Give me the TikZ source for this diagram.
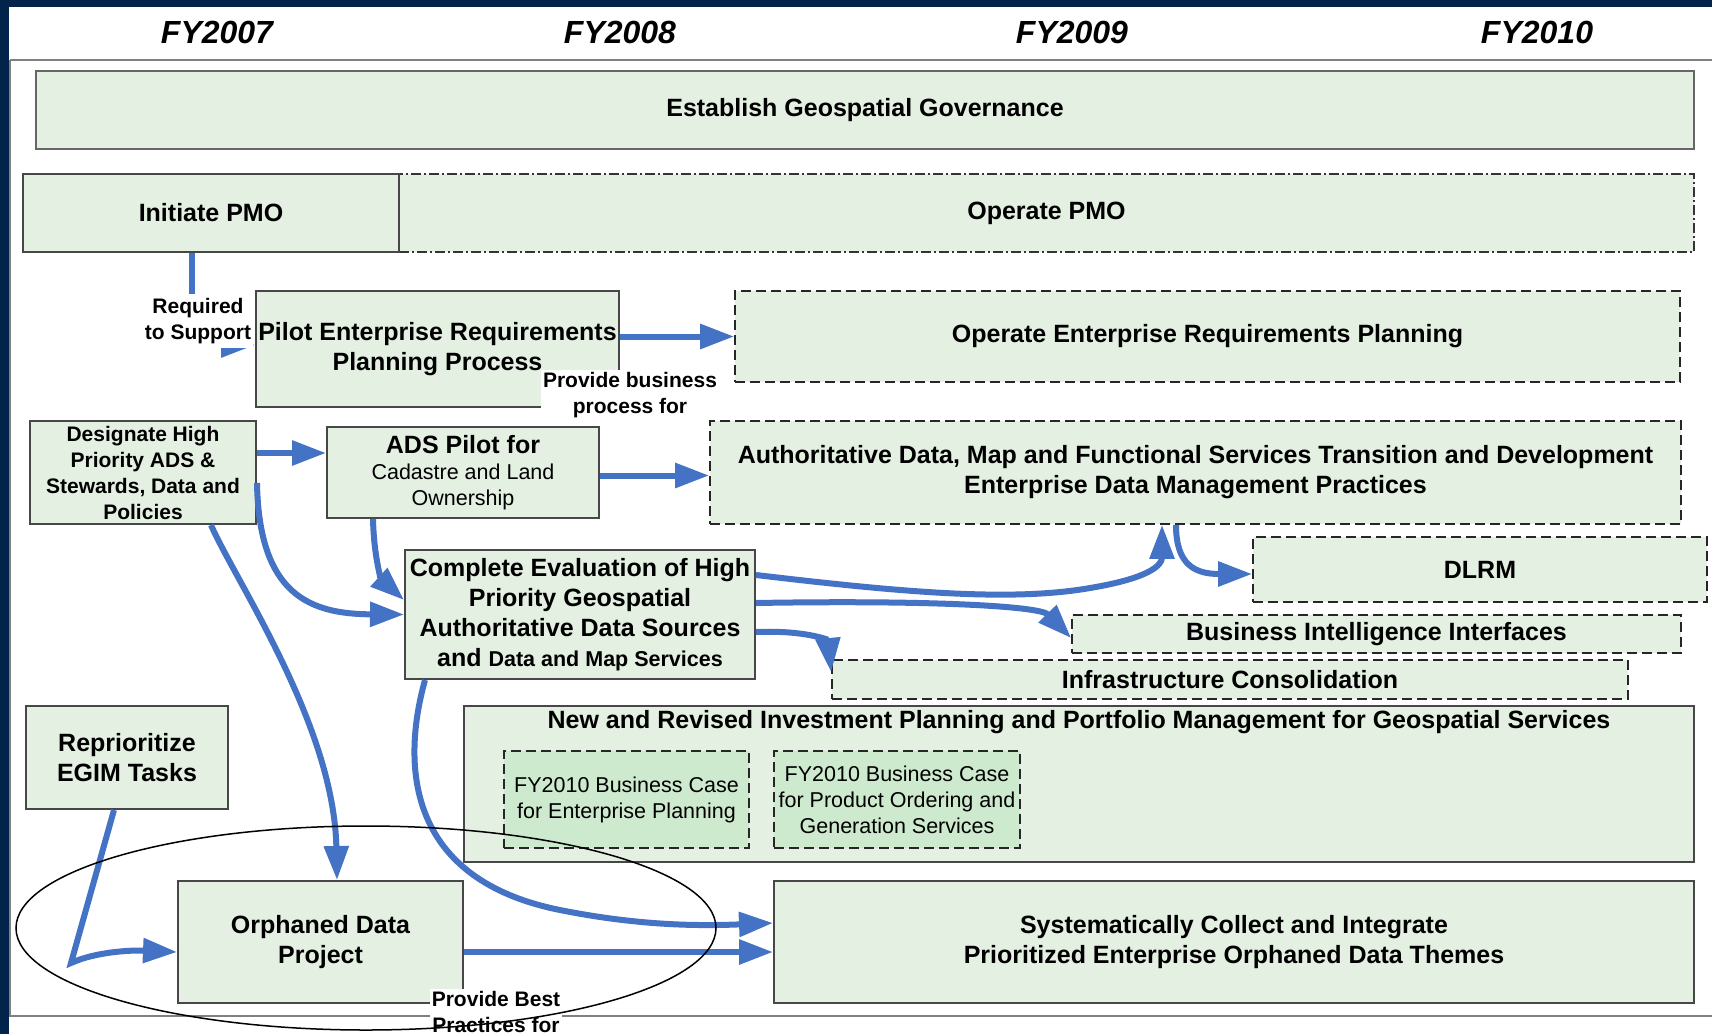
\documentclass[tikz,border=0pt]{standalone}
\usepackage{fontspec}
\setmainfont{Liberation Sans}
\usetikzlibrary{arrows.meta,calc,shapes.geometric}
\definecolor{navy}{RGB}{2,36,74}
\definecolor{boxfill}{RGB}{228,240,226}
\definecolor{innerfill}{RGB}{206,234,206}
\definecolor{ablue}{RGB}{68,114,196}
\definecolor{frameg}{RGB}{128,128,128}
\tikzset{
 solidbox/.style={draw=black!72, line width=2pt, fill=boxfill, inner sep=0pt, align=center},
 dashbox/.style={draw=black!85, line width=1.8pt, dash pattern=on 10pt off 5pt, fill=boxfill, inner sep=0pt, align=center},
 dotbox/.style={draw=black!80, line width=1.6pt, dash pattern=on 10pt off 3pt on 2pt off 3pt, fill=boxfill, inner sep=0pt, align=center},
 innerbox/.style={dashbox, fill=innerfill},
 big/.style={font=\fontsize{25}{30}\selectfont\bfseries},
 small/.style={font=\fontsize{21}{26}\selectfont\bfseries},
 smallreg/.style={font=\fontsize{21.5}{26}\selectfont},
 yearlbl/.style={font=\fontsize{32}{38}\selectfont\bfseries\itshape},
 conn/.style={draw=ablue, line width=6pt, -{Triangle[length=34pt,width=24pt]}},
 lbl/.style={fill=white, inner sep=2pt, align=center, font=\fontsize{21}{26}\selectfont\bfseries},
}
\begin{document}
\begin{tikzpicture}[x=1pt,y=-1pt]
\useasboundingbox (0,0) rectangle (1712,1034);
\fill[white] (0,0) rectangle (1712,1034);
% frame
\fill[navy] (0,0) rectangle (1712,7);
\fill[navy] (0,0) rectangle (9,1034);
\draw[frameg, line width=2.5pt] (10,60) -- (1712,60);
\draw[frameg, line width=2pt] (10,60) -- (10,1016) -- (1712,1016);
% years
\node[yearlbl] (y07) at (217,32) {FY2007};
\node[yearlbl] (y08) at (620,32) {FY2008};
\node[yearlbl] (y09) at (1072,32) {FY2009};
\node[yearlbl] (y10) at (1537,32) {FY2010};
% boxes
\node[solidbox, big, draw=black!60, minimum width=1658pt, minimum height=78pt] (est) at (865,110) {Establish Geospatial Governance};
\node[dotbox, big, minimum width=1295pt, minimum height=78pt] (opmo) at (1046.5,213) {Operate PMO};
\node[solidbox, big, minimum width=376pt, minimum height=78pt] (init) at (211,213) {Initiate PMO};
\node[solidbox, big, minimum width=363pt, minimum height=116pt] (pilot) at (437.5,349) {Pilot Enterprise Requirements\\Planning Process};
\node[dashbox, big, minimum width=945pt, minimum height=91pt] (operp) at (1207.5,336.5) {Operate Enterprise Requirements Planning};
\node[solidbox, small, minimum width=226pt, minimum height=103pt] (desig) at (143,472.5) {Designate High\\Priority ADS \&\\Stewards, Data and\\Policies};
\node[solidbox, smallreg, minimum width=272pt, minimum height=91pt] (adsp) at (463,472.5) {{\fontsize{25}{30}\selectfont\bfseries ADS Pilot for}\\Cadastre and Land\\Ownership};
\node[dashbox, big, minimum width=971pt, minimum height=103pt] (auth) at (1195.5,472.5) {Authoritative Data, Map and Functional Services Transition and Development\\Enterprise Data Management Practices};
\node[dashbox, big, minimum width=454pt, minimum height=65pt] (dlrm) at (1480,569.5) {DLRM};
\node[dashbox, big, minimum width=609pt, minimum height=38pt] (bii) at (1376.5,634) {Business Intelligence Interfaces};
\node[dashbox, big, minimum width=796pt, minimum height=39pt] (infra) at (1230,679.5) {Infrastructure Consolidation};
\node[solidbox, big, minimum width=350pt, minimum height=129pt] (ceval) at (580,614.5) {Complete Evaluation of High\\Priority Geospatial\\Authoritative Data Sources\\and {\fontsize{21.5}{30}\selectfont\bfseries Data and Map Services}};
\node[solidbox, big, minimum width=202pt, minimum height=103pt] (repri) at (127,757.5) {Reprioritize\\EGIM Tasks};
\node[solidbox, minimum width=1230pt, minimum height=156pt] (nrip) at (1079,784) {};
\node[big] (nript) at (1079,722) {New and Revised Investment Planning and Portfolio Management for Geospatial Services};
\node[innerbox, smallreg, minimum width=245pt, minimum height=97pt] (bc1) at (626.5,799.5) {FY2010 Business Case\\for Enterprise Planning};
\node[innerbox, smallreg, minimum width=246pt, minimum height=97pt] (bc2) at (897,799.5) {FY2010 Business Case\\for Product Ordering and\\Generation Services};
\node[solidbox, big, minimum width=285pt, minimum height=122pt] (orph) at (320.5,942) {Orphaned Data\\Project};
\node[solidbox, big, minimum width=920pt, minimum height=122pt] (sys) at (1234,942) {Systematically Collect and Integrate\\Prioritized Enterprise Orphaned Data Themes};
% connectors
\coordinate (bend) at (71,963);
\coordinate (cvia) at (560,910);
\coordinate (avia) at (1090,588);
\draw[conn] ([xshift=-19pt]init.south) |- ([yshift=4pt]pilot.west);
\draw[conn] (pilot.east |- operp.west) -- (operp.west);
\draw[conn] ([yshift=19.5pt]desig.east) -- ([yshift=19.5pt]adsp.west);
\draw[conn] ([yshift=-3pt]adsp.east) -- ([yshift=-3pt]auth.west);
\draw[conn] ([xshift=-90pt]adsp.south) .. controls (374,560) and (382,580) .. ([yshift=14.5pt]ceval.west);
\draw[conn] ([yshift=-10.5pt]desig.east) .. controls (259,595) and (310,614) .. (ceval.west);
\draw[conn] ([xshift=68pt]desig.south) .. controls (236,582) and (334,725) .. ([xshift=16.5pt]orph.north);
\draw[conn] ([xshift=-13pt]repri.south) -- (bend) .. controls (95,952) and (130,950) .. ([yshift=-10pt]orph.west);
\draw[conn] ([xshift=-155pt]ceval.south) .. controls (400,770) and (410,880) .. (cvia) .. controls (640,926) and (700,926) .. ([yshift=19pt]sys.west);
\draw[conn] ([yshift=-10pt]orph.east) -- ([yshift=-10pt]sys.west);
\draw[conn] ([yshift=39.5pt]ceval.east) .. controls (900,592) and (1010,602) .. (avia) .. controls (1150,578) and (1162,565) .. ([xshift=-33.5pt]auth.south);
\draw[conn] ([xshift=-19.5pt]auth.south) .. controls (1176,565) and (1195,574) .. ([yshift=-4.5pt]dlrm.west);
\draw[conn] ([yshift=11.5pt]ceval.east) .. controls (930,600) and (1040,606) .. ([yshift=-4pt]bii.west);
\draw[conn] ([yshift=-17.5pt]ceval.east) .. controls (805,630) and (828,640) .. ([yshift=7.5pt]infra.west);
% labels
\node[lbl, minimum height=54pt] (reqlbl) at (198,321) {Required\\to Support};
\node[lbl] (bizlbl) at (630,395) {Provide business\\process for};
\node[lbl] (bestlbl) at (496,1012) {Provide Best\\Practices for};
% ellipse
\node[draw=black, ellipse, line width=1.5pt, minimum width=700pt, minimum height=204pt] (circ) at (366,928) {};
\end{tikzpicture}
\end{document}
